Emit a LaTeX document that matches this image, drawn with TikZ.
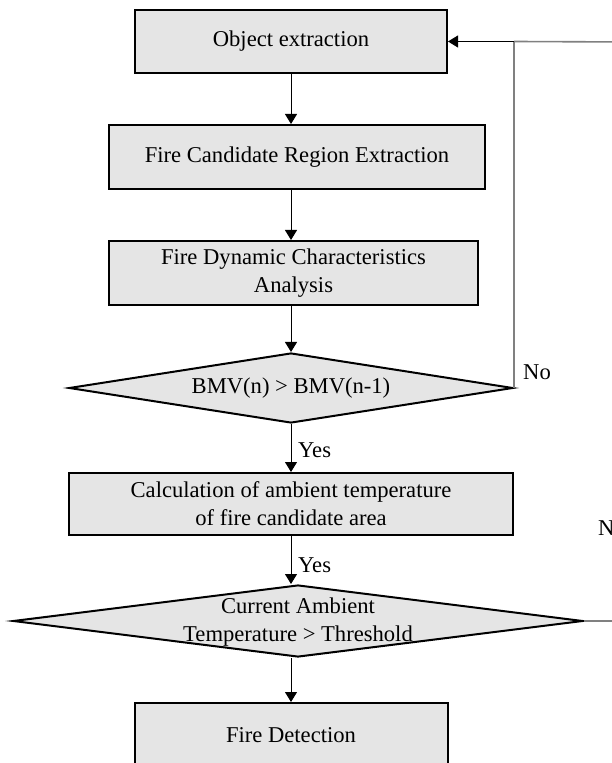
\documentclass[tikz,border=0pt]{standalone}
\usepackage{fontspec}
\setmainfont{Liberation Serif}
\usetikzlibrary{shapes.geometric,arrows.meta}
\tikzset{
  stagebox/.style={draw, line width=1pt, fill=gray!20, align=center, inner sep=0pt},
  decision/.style={diamond, draw, line width=1pt, fill=gray!20, inner sep=0pt, aspect=6.3},
  flow/.style={-{Triangle[width=6pt,length=5pt]}, line width=0.5pt},
  back/.style={draw=gray, line width=0.8pt},
}
\begin{document}
\begin{tikzpicture}[x=0.5pt,y=-0.5pt,font=\fontsize{11.3}{14}\selectfont]

  \useasboundingbox (0,0) rectangle (611,763);

  % stages
  \node[stagebox, minimum width=156pt, minimum height=31.5pt] (obj) at (291,41.5) {Object extraction};
  \node[stagebox, minimum width=188pt, minimum height=32pt] (cand) at (297,157) {Fire Candidate Region Extraction};
  \node[stagebox, minimum width=184.5pt, minimum height=32pt] (dyn) at (293.5,273) {Fire Dynamic Characteristics\\Analysis};
  \node[decision, minimum width=222pt, minimum height=35pt] (bmv) at (291,388) {BMV(n) > BMV(n-1)};
  \node[stagebox, minimum width=222pt, minimum height=31pt] (amb) at (291,504) {Calculation of ambient temperature\\of fire candidate area};
  \node[decision, minimum width=285pt, minimum height=36pt] (thr) at (298,621) {};
  \node[align=center, inner sep=0pt] (thrtext) at (298,622) {Current Ambient\\Temperature > Threshold};
  \node[stagebox, minimum width=156.5pt, minimum height=32pt] (det) at (291,735) {Fire Detection};

  % main flow
  \draw[flow] (obj.south) -- (obj.south |- cand.north);
  \draw[flow] (obj.south |- cand.south) -- (obj.south |- dyn.north);
  \draw[flow] (obj.south |- dyn.south) -- (bmv.north);
  \draw[flow] (bmv.south) -- (amb.north) node[right, pos=0.55] {Yes};
  \draw[flow] (amb.south) -- (amb.south |- thr.north) node[right, pos=0.6] {Yes};
  \draw[flow] (amb.south |- thr.south) -- (det.north);

  % feedback
  \coordinate (join) at (bmv.east |- obj.east);
  \coordinate (farright) at (630,42);
  \draw[back] (bmv.east) -- (join);
  \draw[back] (thr.east) -- (thr.east -| farright) -- (farright) -- (join);
  \draw[flow] (join) -- (obj.east);
  \node (no1) at (537,372) {No};
  \node (no2) at (612,528) {No};

\end{tikzpicture}
\end{document}
